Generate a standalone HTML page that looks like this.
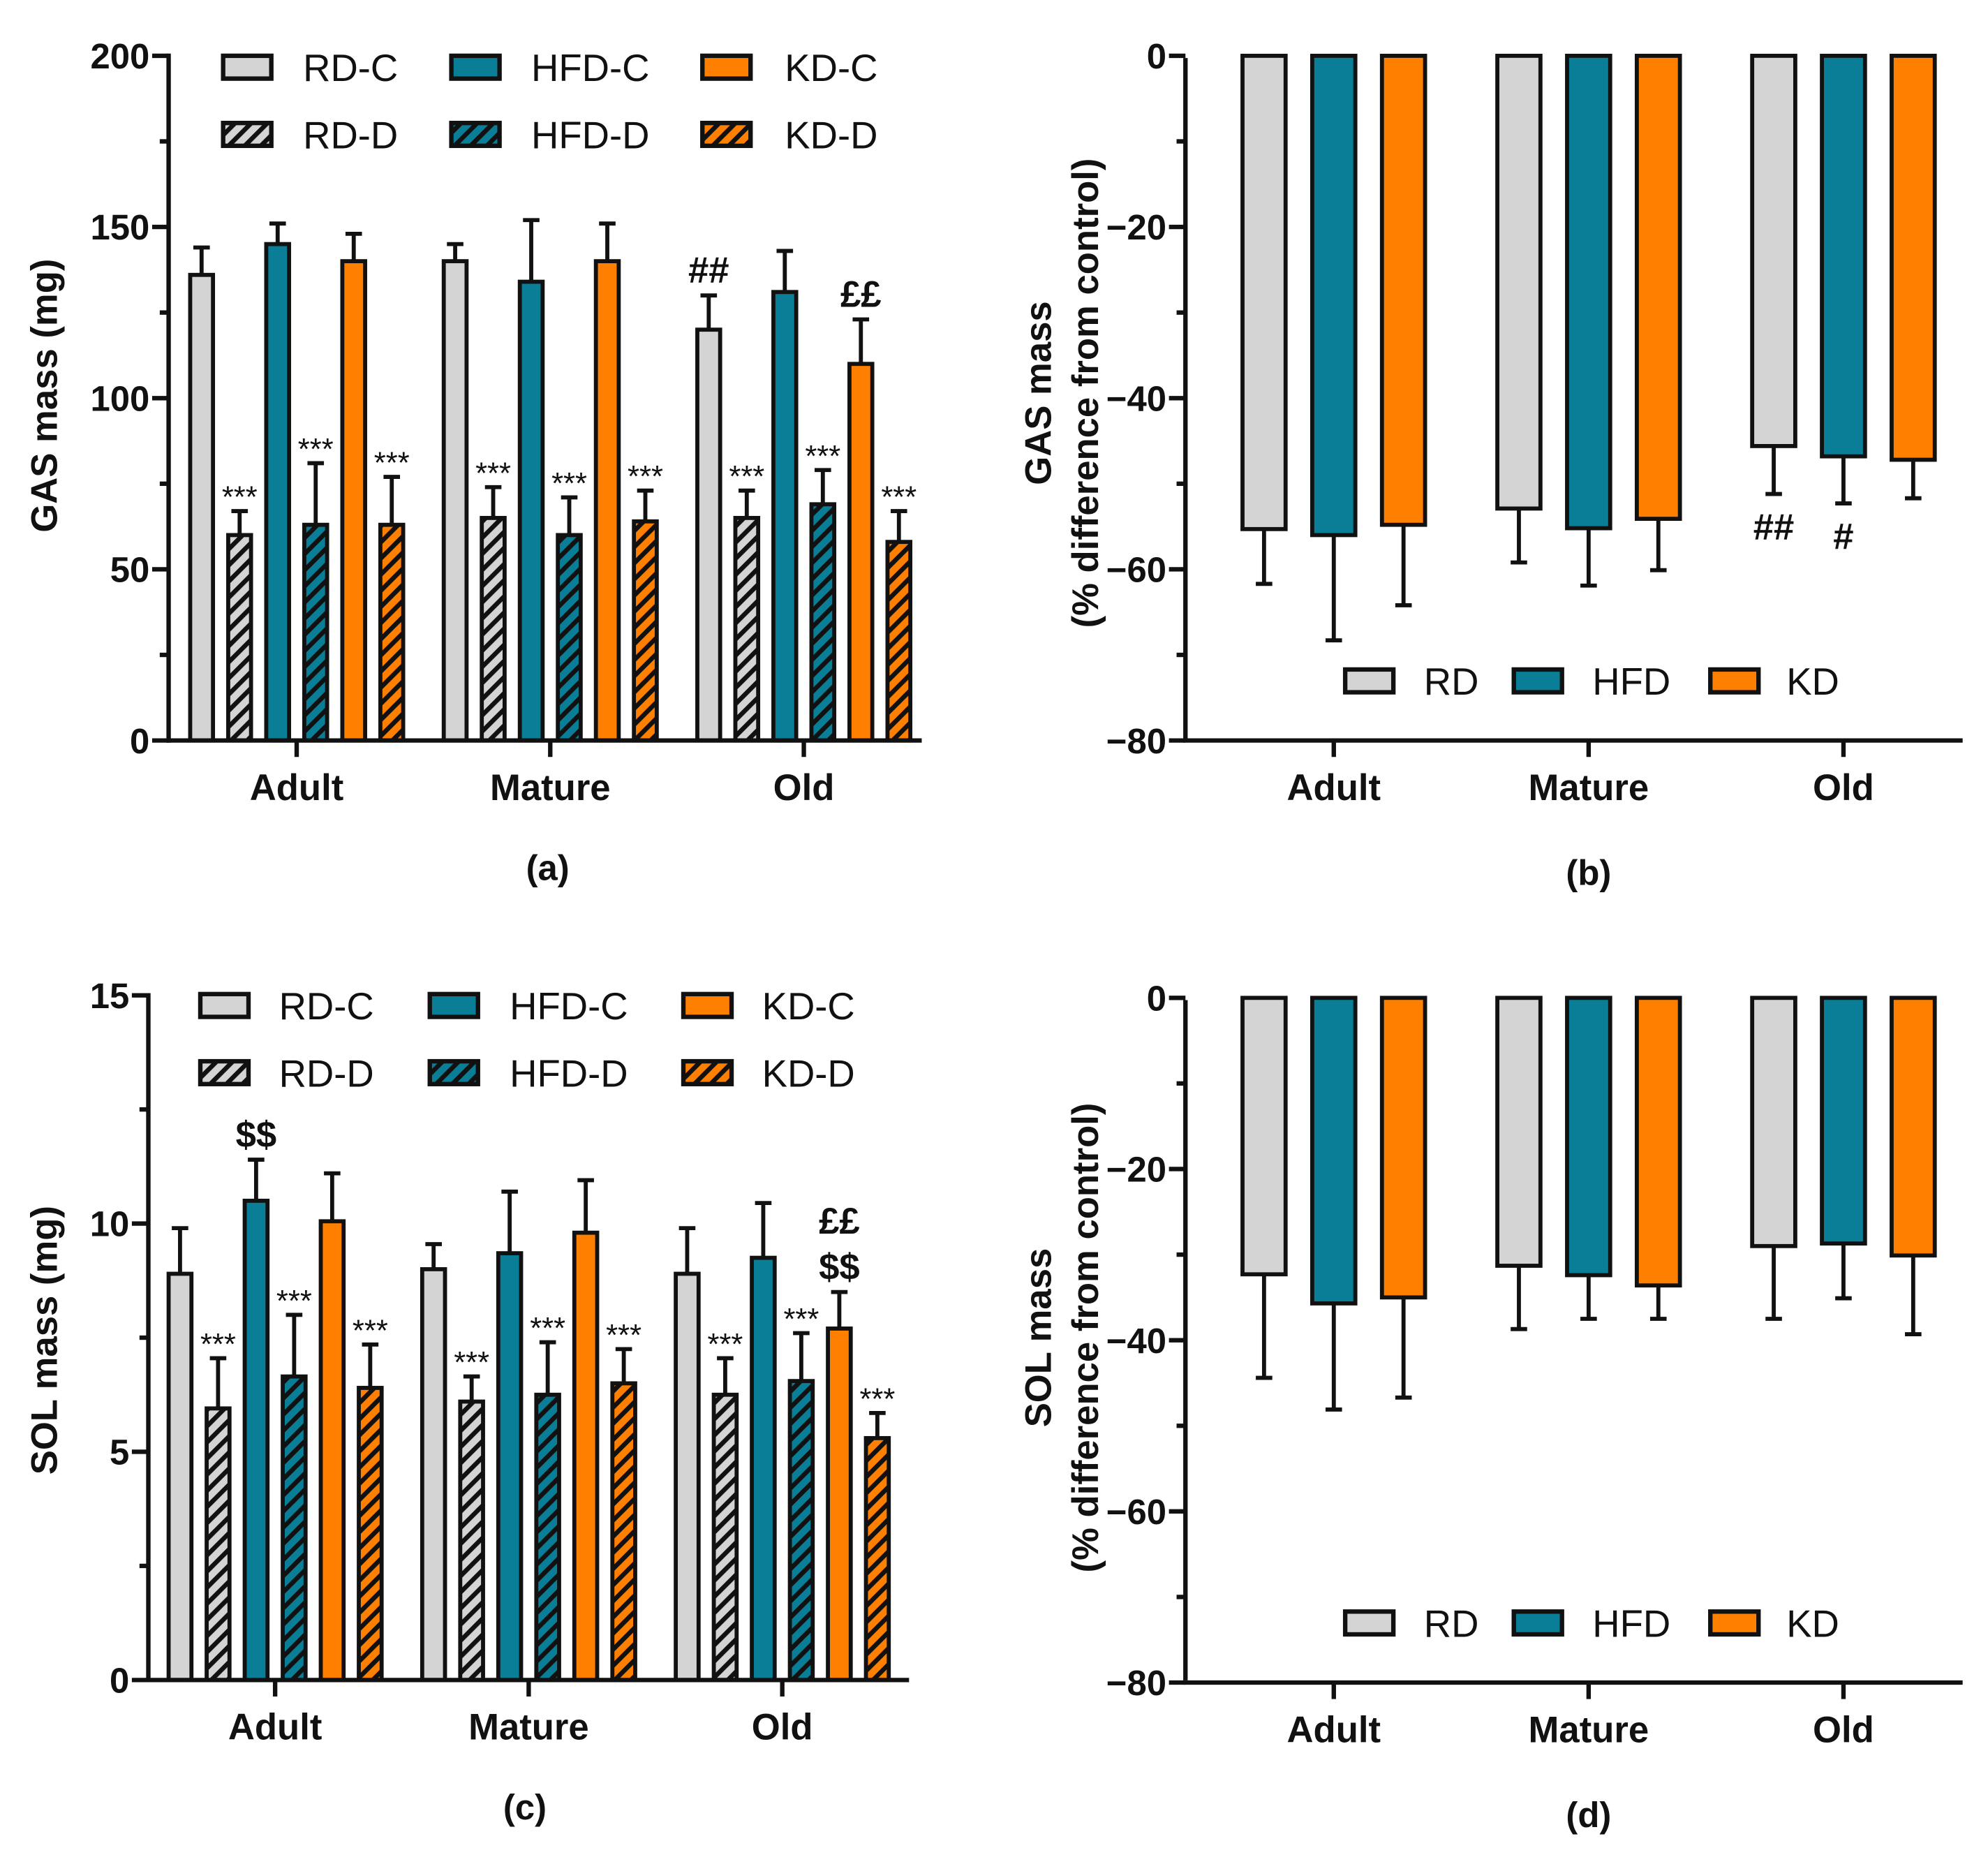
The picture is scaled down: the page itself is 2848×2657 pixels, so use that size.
<!DOCTYPE html>
<html><head><meta charset="utf-8">
<style>
html,body{margin:0;padding:0;background:#fff;}
svg{display:block;font-family:"Liberation Sans",Arial,sans-serif;}
</style></head>
<body>
<svg id="fig" width="2848" height="2657" viewBox="0 0 1568 1463" preserveAspectRatio="none" xmlns="http://www.w3.org/2000/svg">
<defs>
<pattern id="h-grey" patternUnits="userSpaceOnUse" width="9" height="9" patternTransform="rotate(45)"><rect width="9" height="9" fill="#d4d4d4"/><rect width="3.6" height="9" fill="#111"/></pattern>
<pattern id="h-teal" patternUnits="userSpaceOnUse" width="9" height="9" patternTransform="rotate(45)"><rect width="9" height="9" fill="#0a7e96"/><rect width="3.6" height="9" fill="#111"/></pattern>
<pattern id="h-orange" patternUnits="userSpaceOnUse" width="9" height="9" patternTransform="rotate(45)"><rect width="9" height="9" fill="#ff8000"/><rect width="3.6" height="9" fill="#111"/></pattern>
</defs>
<g id="root"></g>
</svg>
<script>
const ageGroups = ["Adult","Mature","Old"];
const seriesA = ["RD-C","RD-D","HFD-C","HFD-D","KD-C","KD-D"];
// Panel a: GAS mass (mg)
const gasMean = [[136,60,145,63,140,63],[140,65,134,60,140,64],[120,65,131,69,110,58]];
const gasErr  = [[144,67,151,81,148,77],[145,74,152,71,151,73],[130,73,143,79,123,67]];
const gasAnno = [["","***","","***","","***"],["","***","","***","","***"],["##","***","","***","££",'***']];
const gasTicks = [0,50,100,150,200];
// Panel c: SOL mass (mg)
const solMean = [[8.9,5.95,10.5,6.65,10.05,6.4],[9.0,6.1,9.35,6.25,9.8,6.5],[8.9,6.25,9.25,6.55,7.7,5.3]];
const solErr  = [[9.9,7.05,11.4,8.0,11.1,7.35],[9.55,6.65,10.7,7.4,10.95,7.25],[9.9,7.05,10.45,7.6,8.5,5.85]];
const solAnno = [["","***","$$","***","","***"],["","***","","***","","***"],["","***","","***","££\n$$","***"]];
const solTicks = [0,5,10,15];
// Panel b / d: % difference
const seriesB = ["RD","HFD","KD"];
const gasPct = [[-55.3,-56.0,-54.8],[-52.9,-55.2,-54.1],[-45.6,-46.8,-47.2]];
const gasPctErr = [[-61.7,-68.3,-64.2],[-59.2,-61.9,-60.1],[-51.2,-52.3,-51.7]];
const gasPctAnno = [["","",""],["","",""],["##","#",""]];
const solPct = [[-32.3,-35.7,-35.0],[-31.3,-32.4,-33.6],[-29.0,-28.7,-30.1]];
const solPctErr = [[-44.4,-48.1,-46.7],[-38.7,-37.5,-37.5],[-37.5,-35.1,-39.3]];
const pctTicks = [0,-20,-40,-60,-80];

const NS="http://www.w3.org/2000/svg";
const root=document.getElementById('root');
function el(tag,attrs,parent,text){const e=document.createElementNS(NS,tag);for(const k in attrs)e.setAttribute(k,attrs[k]);if(text!==undefined)e.textContent=text;(parent||root).appendChild(e);return e;}
const fills={"RD-C":"#d4d4d4","RD-D":"url(#h-grey)","HFD-C":"#0a7e96","HFD-D":"url(#h-teal)","KD-C":"#ff8000","KD-D":"url(#h-orange)","RD":"#d4d4d4","HFD":"#0a7e96","KD":"#ff8000"};

function panel(cfg){
  const g=el('g',{});
  
  
  const y=v=>cfg.y0+(v-cfg.vmin)/(cfg.vmax-cfg.vmin)*(cfg.y1-cfg.y0);
  cfg.mean.forEach((grp,gi)=>{
    grp.forEach((v,si)=>{
      const x=cfg.gx0+gi*cfg.gstep+si*cfg.bstep;
      const base=y(0), top=y(v);
      const e=cfg.err[gi][si], ye=y(e), cx=x+cfg.bw/2;
      const eb=el('line',{x1:cx,x2:cx,y1:top,y2:ye,stroke:'#111','stroke-width':3.2},g);
      
      
      el('line',{x1:cx-6.5,x2:cx+6.5,y1:ye,y2:ye,stroke:'#111','stroke-width':3.2},g);
      const r=el('rect',{x:x,y:Math.min(base,top),width:cfg.bw,height:Math.abs(top-base),fill:fills[cfg.series[si]],stroke:'#111','stroke-width':3.2},g);
      
      
      const a=cfg.anno?cfg.anno[gi][si]:"";
      if(a){
        const lines=a.split("\n");
        const star=a==="***";
        lines.forEach((ln,li)=>{
          let ty;
          if(cfg.neg) ty=ye+36;
          else ty=ye-(star?3:10)-(lines.length-1-li)*36;
          const t=el('text',{x:cx,y:ty,'text-anchor':'middle','font-size':star?24:29,'font-weight':star?'normal':'bold',fill:'#111'},g,ln);
          
          
        });
      }
    });
  });
  const ya=el('line',{x1:cfg.ax,x2:cfg.ax,y1:cfg.y1-1.75,y2:cfg.y0+1.75,stroke:'#111','stroke-width':3.5},g);
  
  
  const xa=el('line',{x1:cfg.ax-1.75,x2:cfg.axEnd,y1:cfg.xAxisY,y2:cfg.xAxisY,stroke:'#111','stroke-width':3.5},g);
  
  
  cfg.ticks.forEach(v=>{
    el('line',{x1:cfg.ax-13,x2:cfg.ax,y1:y(v),y2:y(v),stroke:'#111','stroke-width':3.5},g);
    const t=el('text',{x:cfg.ax-15,y:y(v)+10,'text-anchor':'end','font-size':28,'font-weight':'bold',fill:'#111'},g,v<0?'\u2212'+(-v):String(v));
    
    
  });
  for(let i=0;i<cfg.ticks.length-1;i++){
    const m=(cfg.ticks[i]+cfg.ticks[i+1])/2;
    el('line',{x1:cfg.ax-7,x2:cfg.ax,y1:y(m),y2:y(m),stroke:'#111','stroke-width':3.5},g);
  }
  ageGroups.forEach((n,gi)=>{
    const cx=cfg.gx0+gi*cfg.gstep+((cfg.series.length-1)*cfg.bstep+cfg.bw)/2;
    el('line',{x1:cx,x2:cx,y1:cfg.xAxisY,y2:cfg.xAxisY+13,stroke:'#111','stroke-width':3.5},g);
    const t=el('text',{x:cx,y:cfg.xAxisY+47,'text-anchor':'middle','font-size':29,'font-weight':'bold',fill:'#111'},g,n);
    
    
  });
  cfg.titles.forEach((tt,i)=>{
    const t=el('text',{x:0,y:0,'text-anchor':'middle','font-size':29,'font-weight':'bold',fill:'#111',transform:`translate(${tt[1]},${cfg.titleY}) rotate(-90)`},g,tt[0]);
    
    
  });
  const pl=el('text',{x:cfg.labelX,y:cfg.labelY,'text-anchor':'middle','font-size':28,'font-weight':'bold',fill:'#111'},g,cfg.label);
  
  
  cfg.legend.forEach(L=>{
    const lg=el('g',{},g);
    
    
    el('rect',{x:L[1],y:L[3]-9,width:38,height:18,fill:fills[L[0]],stroke:'#111','stroke-width':3.5},lg);
    el('text',{x:L[2],y:L[3]+11,'font-size':30,fill:'#111'},lg,L[0]);
  });
}

panel({name:'panel-a',series:seriesA,mean:gasMean,err:gasErr,anno:gasAnno,ticks:gasTicks,vmin:0,vmax:200,y0:584,y1:44,
  gx0:150,gstep:200,bstep:30,bw:18,ax:133,axEnd:727,xAxisY:584,titles:[["GAS mass (mg)",45]],titleY:312,label:"(a)",labelX:432,labelY:694,
  legend:[["RD-C",176,239,53],["HFD-C",356,419,53],["KD-C",554,619,53],["RD-D",176,239,106],["HFD-D",356,419,106],["KD-D",554,619,106]]});
panel({name:'panel-c',series:seriesA,mean:solMean,err:solErr,anno:solAnno,ticks:solTicks,vmin:0,vmax:15,y0:1325,y1:785,
  gx0:133,gstep:200,bstep:30,bw:18,ax:117,axEnd:717,xAxisY:1325,titles:[["SOL mass (mg)",45]],titleY:1057,label:"(c)",labelX:414,labelY:1435,
  legend:[["RD-C",158,220,793],["HFD-C",339,402,793],["KD-C",539,601,793],["RD-D",158,220,846],["HFD-D",339,402,846],["KD-D",539,601,846]]});
panel({name:'panel-b',neg:true,series:seriesB,mean:gasPct,err:gasPctErr,anno:gasPctAnno,ticks:pctTicks,vmin:0,vmax:-80,y0:44,y1:584,
  gx0:980,gstep:201,bstep:55,bw:34,ax:935,axEnd:1548,xAxisY:584,titles:[["GAS mass",829],["(% difference from control)",866]],titleY:310,label:"(b)",labelX:1253,labelY:698,
  legend:[["RD",1061,1123,537],["HFD",1194,1256,537],["KD",1349,1409,537]]});
panel({name:'panel-d',neg:true,series:seriesB,mean:solPct,err:solPctErr,anno:null,ticks:pctTicks,vmin:0,vmax:-80,y0:787,y1:1327,
  gx0:980,gstep:201,bstep:55,bw:34,ax:935,axEnd:1548,xAxisY:1327,titles:[["SOL mass",829],["(% difference from control)",866]],titleY:1055,label:"(d)",labelX:1253,labelY:1441,
  legend:[["RD",1061,1123,1280],["HFD",1194,1256,1280],["KD",1349,1409,1280]]});
</script>
</body></html>
